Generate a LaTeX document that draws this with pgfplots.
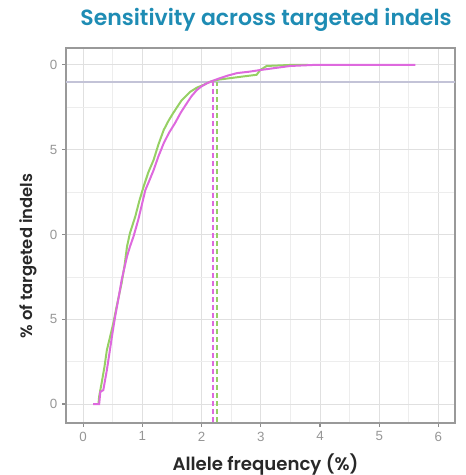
\documentclass[border=0pt]{standalone}
\usepackage{fontspec}
\usepackage{pgfplots}
\pgfplotsset{compat=1.18}
\setmainfont{Liberation Sans}
\newfontfamily\titlefont{Poppins}[BoldFont={Poppins SemiBold}]
\definecolor{ttl}{RGB}{30,140,180}
\definecolor{grn}{RGB}{150,208,100}
\definecolor{mag}{RGB}{222,105,222}
\definecolor{hline}{RGB}{195,195,215}
\definecolor{tickc}{RGB}{150,150,150}
\definecolor{labc}{RGB}{40,40,40}
\begin{document}
\begin{tikzpicture}[x=1pt,y=1pt]
\path[use as bounding box] (0,0) rectangle (349.5,356.25);
\begin{axis}[at={(49.5pt,39pt)}, anchor=south west, scale only axis,
  width=291.75pt, height=281.25pt,
  xmin=-0.29, xmax=6.28, ymin=-5.6, ymax=105,
  xtick={0,1,2,3,4,5,6}, ytick={0,25,50,75,100}, yticklabels={0,5,0,5,0},
  minor xtick={0.5,1.5,2.5,3.5,4.5,5.5}, minor ytick={12.5,37.5,62.5,87.5},
  grid=both,
  major grid style={color=black!12, line width=0.7pt},
  minor grid style={color=black!7, line width=0.5pt},
  axis line style={color=black!40, line width=0.8pt},
  tick align=outside, major tick length=3pt, minor tick length=0pt,
  tick pos=left,
  tick style={color=black!45, line width=0.8pt},
  /pgf/number format/assume math mode=true,
  ticklabel style={font=\fontsize{10}{12}\selectfont, text=tickc},
  clip=true]
\addplot[hline, line width=1.1pt] coordinates {(-1,95) (7,95)};
\addplot[mag, line width=1.5pt, dash pattern=on 3.5pt off 2.5pt] coordinates {(2.20,-10) (2.20,95)};
\addplot[grn, line width=1.5pt, dash pattern=on 3.5pt off 2.5pt] coordinates {(2.26,-10) (2.26,95)};
\addplot[grn, line width=1.5pt] coordinates {
(0.26,0.3) (0.27,2.2) (0.316,6.6) (0.36,11.0) (0.40,15.9) (0.45,19.5) (0.51,23.9) (0.58,30.0) (0.65,35.7)
(0.70,41.0) (0.74,46.4) (0.79,50.4) (0.88,55.3) (0.95,60.0) (1.02,64.1) (1.10,68.3) (1.19,72.0)
(1.27,76.5) (1.36,80.8) (1.44,83.5) (1.52,85.8) (1.66,89.5) (1.81,92.1) (1.92,93.3) (2.03,94.1)
(2.15,95.1) (2.30,95.7) (2.48,96.1) (2.70,96.6) (2.93,97.1) (2.99,98.5) (3.10,99.7) (3.50,100) (3.8,100)};
\addplot[mag, line width=1.5pt] coordinates {
(0.17,0) (0.27,0) (0.29,3.6) (0.34,4.1) (0.40,10.0) (0.46,16.9) (0.50,21.5) (0.54,25.8) (0.60,31.5) (0.65,36.6)
(0.74,43.5) (0.79,46.4) (0.85,49.4) (0.93,54.3) (1.05,63.1) (1.12,66.0) (1.19,69.0) (1.27,73.0) (1.36,76.9)
(1.45,80.0) (1.55,82.8) (1.65,86.0) (1.75,88.7) (1.83,90.8) (1.92,92.6) (2.00,93.7) (2.09,94.6) (2.20,95.4) (2.31,96.1)
(2.45,96.9) (2.60,97.6) (2.80,98.0) (2.99,98.5) (3.20,99.0) (3.50,99.7) (3.89,100) (5.61,100)};
\end{axis}
\node[font=\titlefont\bfseries\fontsize{16.5}{19}\selectfont, text=ttl] at (199.5,341.25) {Sensitivity across targeted indels};
\node[font=\titlefont\bfseries\fontsize{13.6}{16}\selectfont, text=labc, anchor=base] at (199.1,3.5) {Allele frequency (\%)};
\node[font=\titlefont\bfseries\fontsize{12.3}{14}\selectfont, text=labc, rotate=90] at (21,164.25) {\% of targeted indels};
\end{tikzpicture}
\end{document}
